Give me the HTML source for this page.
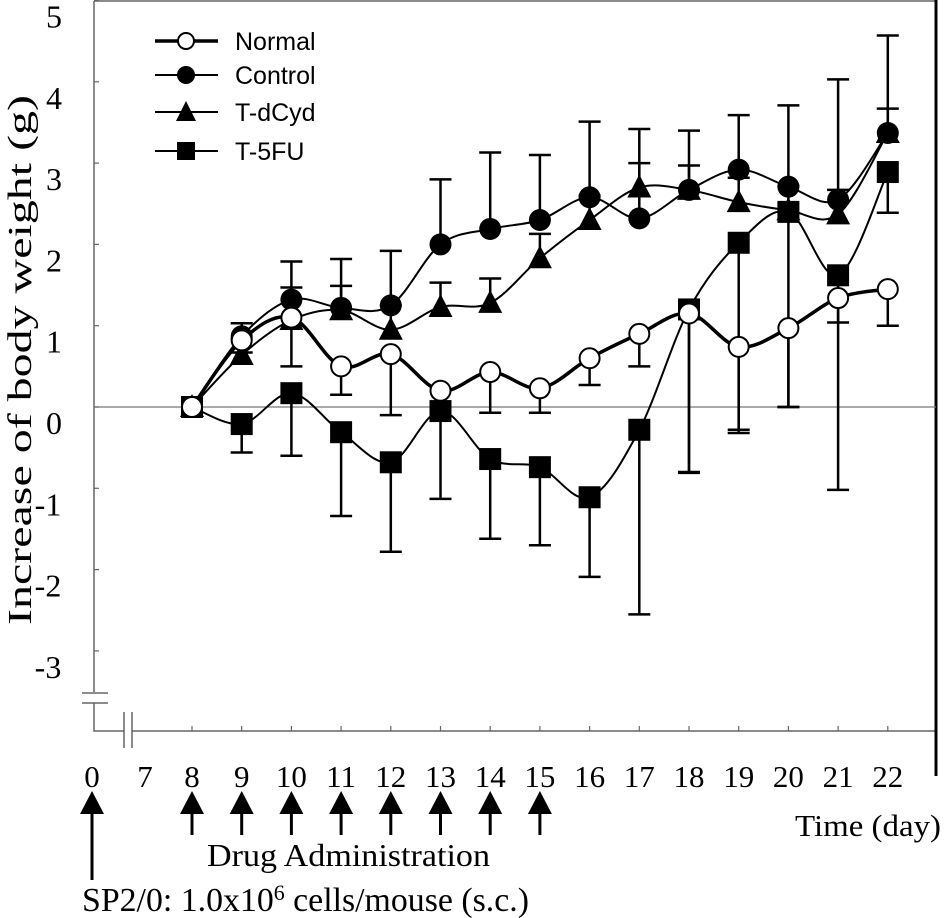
<!DOCTYPE html>
<html><head><meta charset="utf-8"><style>
html,body{margin:0;padding:0;background:#fff;width:945px;height:918px;overflow:hidden}
svg{display:block}
text{font-family:"Liberation Serif",serif;fill:#000}
</style></head><body>
<svg id="chart" width="945" height="918" viewBox="0 0 945 918" xmlns="http://www.w3.org/2000/svg"></svg>
<script>
const days = [8,9,10,11,12,13,14,15,16,17,18,19,20,21,22];
const normalVals = [0,0.82,1.1,0.5,0.65,0.2,0.43,0.23,0.6,0.9,1.15,0.74,0.97,1.34,1.45];
const normalErr  = [0,0.15,0.6,0.35,0.75,0.35,0.5,0.3,0.33,0.4,1.96,1.06,0.97,0.3,0.45];
const controlVals = [0,0.87,1.32,1.22,1.25,2.0,2.19,2.3,2.58,2.32,2.67,2.92,2.71,2.55,3.37];
const controlErr  = [0,0.16,0.47,0.6,0.67,0.8,0.94,0.8,0.93,1.1,0.73,0.67,1.0,1.48,1.2];
const dcydVals = [0,0.64,1.07,1.19,0.95,1.23,1.28,1.83,2.3,2.7,2.67,2.52,2.42,2.37,3.37];
const dcydErr  = [0,0.2,0.4,0.3,0.3,0.3,0.3,0.3,0.3,0.3,0.3,0.3,0.3,0.3,0.3];
const fuVals = [0,-0.21,0.17,-0.31,-0.68,-0.05,-0.64,-0.74,-1.11,-0.28,1.2,2.02,2.4,1.62,2.89];
const fuErr  = [0,0.35,0.77,1.03,1.1,1.08,0.98,0.96,0.98,2.27,2.0,2.3,2.4,2.64,0.5];
const yTicks = [5,4,3,2,1,0,-1,-2,-3];
const xTickLabels = ["0","7","8","9","10","11","12","13","14","15","16","17","18","19","20","21","22"];
const arrowDays = [8,9,10,11,12,13,14,15];

const NS="http://www.w3.org/2000/svg";
const svg=document.getElementById('chart');
const X=d=>192+(d-8)*49.7;
const Y=v=>407-81.3*v;
function el(tag,attrs,parent){const e=document.createElementNS(NS,tag);for(const k in attrs)e.setAttribute(k,attrs[k]);(parent||svg).appendChild(e);return e;}

let e;
e=el('line',{x1:94,y1:1,x2:936,y2:1,stroke:'#666','stroke-width':1.5});


e=el('line',{x1:94,y1:1,x2:94,y2:692,stroke:'#666','stroke-width':1.5});


e=el('path',{d:'M82 693 H108 M82 703 H108 M94 703 V731 H124 M124 712 V748 M132 712 V748 M132 731 H936',stroke:'#666','stroke-width':1.5,fill:'none'});


e=el('line',{x1:936,y1:0,x2:936,y2:776,stroke:'#000','stroke-width':3});


e=el('line',{x1:94,y1:Y(0),x2:936,y2:Y(0),stroke:'#777','stroke-width':1.2});



yTicks.forEach(v=>{
  const t=el('line',{x1:94,y1:Y(v),x2:99,y2:Y(v),stroke:'#666','stroke-width':1.2});
  
  
  const l=el('text',{x:v<0?48:54,y:Y(v)+27,'font-size':32,'text-anchor':'middle'});
  l.textContent=String(v);
  
  
});
xTickLabels.forEach(s=>{
  const d=+s;
  const x = d===0?92:(d===7?145:X(d));
  if(d>=8){const t=el('line',{x1:x,y1:731,x2:x,y2:726,stroke:'#666','stroke-width':1.2});
  
  }
  const l=el('text',{x:x,y:787,'font-size':31,'text-anchor':'middle'});
  l.textContent=s;
  
  
});
function arrow(x,bottom){
  const g=el('g',{});
  el('path',{d:`M${x-12} 814 L${x} 791 L${x+12} 814 Z`,fill:'#000'},g);
  el('line',{x1:x,y1:810,x2:x,y2:bottom,stroke:'#000','stroke-width':3},g);
  return g;
}
e=arrow(92,880);


arrowDays.forEach(d=>{const a=arrow(X(d),835);
  
  });

e=el('text',{x:207,y:866,'font-size':32,textLength:283,lengthAdjust:'spacingAndGlyphs'});e.textContent='Drug Administration';


e=el('text',{x:82,y:911,'font-size':34,textLength:447,lengthAdjust:'spacingAndGlyphs'});
e.innerHTML='SP2/0: 1.0x10<tspan dy="-11" font-size="22">6</tspan><tspan dy="11"> cells/mouse (s.c.)</tspan>';


e=el('text',{x:795,y:836,'font-size':31,textLength:146,lengthAdjust:'spacingAndGlyphs'});e.textContent='Time (day)';


e=el('text',{x:0,y:0,'font-size':34,'text-anchor':'middle',textLength:530,lengthAdjust:'spacingAndGlyphs',transform:'translate(31,360) rotate(-90)'});
e.textContent='Increase of body weight (g)';



function smooth(pts){
  let d=`M${pts[0][0]} ${pts[0][1]}`;
  for(let i=0;i<pts.length-1;i++){
    const p0=pts[i-1]||pts[i],p1=pts[i],p2=pts[i+1],p3=pts[i+2]||p2;
    const c1=[p1[0]+(p2[0]-p0[0])/6,p1[1]+(p2[1]-p0[1])/6];
    const c2=[p2[0]-(p3[0]-p1[0])/6,p2[1]-(p3[1]-p1[1])/6];
    d+=` C${c1[0]} ${c1[1]} ${c2[0]} ${c2[1]} ${p2[0]} ${p2[1]}`;
  }
  return d;
}
function marker(type,x,y,g){
  if(type==='open') return el('circle',{cx:x,cy:y,r:10,fill:'#fff',stroke:'#000','stroke-width':2},g);
  if(type==='circle') return el('circle',{cx:x,cy:y,r:11,fill:'#000'},g);
  if(type==='tri') return el('path',{d:`M${x-12} ${y+10} L${x} ${y-13} L${x+12} ${y+10} Z`,fill:'#000'},g);
  return el('rect',{x:x-11,y:y-11,width:22,height:22,fill:'#000'},g);
}
const series=[
  {name:'t-5fu',vals:fuVals,err:fuErr,dir:1,m:'sq',w:2},
  {name:'t-dcyd',vals:dcydVals,err:dcydErr,dir:-1,m:'tri',w:2},
  {name:'control',vals:controlVals,err:controlErr,dir:-1,m:'circle',w:2},
  {name:'normal',vals:normalVals,err:normalErr,dir:1,m:'open',w:3.5},
];
series.forEach(s=>{
  const g=el('g',{});
  
  
  days.forEach((d,i)=>{
    if(!s.err[i])return;
    const x=X(d),y1=Y(s.vals[i]),y2=Y(s.vals[i]-s.dir*s.err[i]);
    const eb=el('path',{d:`M${x} ${y1} V${y2} M${x-11} ${y2} H${x+11}`,stroke:'#000','stroke-width':2.5,fill:'none'},g);
    
    
  });
  const pts=days.map((d,i)=>[X(d),Y(s.vals[i])]);
  const ln=el('path',{d:smooth(pts),stroke:'#000','stroke-width':s.w,fill:'none'},g);
  
  
  pts.forEach(p=>{const mk=marker(s.m,p[0],p[1],g);
    
    });
});

const legendNames=['Normal','Control','T-dCyd','T-5FU'];
const legendMarks=['open','circle','tri','sq'];
const legendY=[41,75,112,151];
legendNames.forEach((n,i)=>{
  const g=el('g',{});
  
  
  el('line',{x1:155,y1:legendY[i],x2:218,y2:legendY[i],stroke:'#000','stroke-width':i===0?3.5:2},g);
  const mk=legendMarks[i];
  if(mk==='open')el('circle',{cx:186,cy:legendY[i],r:8,fill:'#fff',stroke:'#000','stroke-width':2},g);
  else if(mk==='circle')el('circle',{cx:186,cy:legendY[i],r:9,fill:'#000'},g);
  else if(mk==='tri')el('path',{d:`M${176} ${legendY[i]+9} L186 ${legendY[i]-11} L196 ${legendY[i]+9} Z`,fill:'#000'},g);
  else el('rect',{x:177,y:legendY[i]-9,width:18,height:18,fill:'#000'},g);
  const t=el('text',{x:235,y:legendY[i]+9,'font-size':25,style:'font-family:"Liberation Sans",sans-serif'},g);t.textContent=n;
});
</script>
</body></html>
